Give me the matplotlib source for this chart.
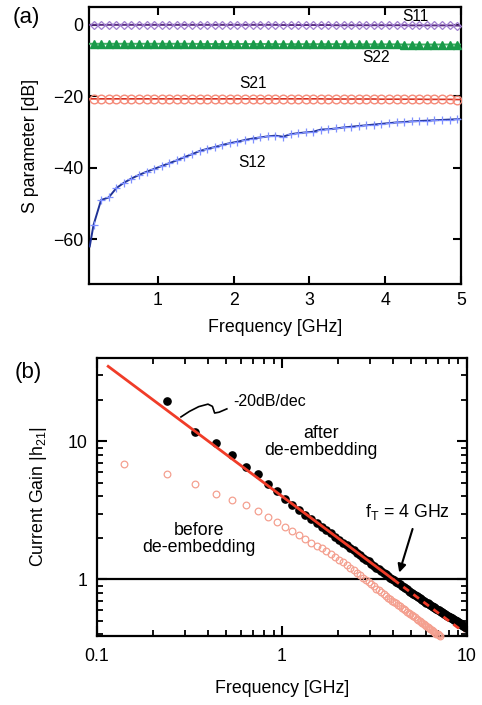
import matplotlib
matplotlib.use("Agg")
import matplotlib.pyplot as plt
from matplotlib.ticker import LogLocator, FixedLocator, NullFormatter, FixedFormatter

plt.rcParams['font.family'] = ['Liberation Sans', 'DejaVu Sans']
plt.rcParams['mathtext.fontset'] = 'custom'
plt.rcParams['mathtext.rm'] = 'Liberation Sans'
plt.rcParams['mathtext.it'] = 'Liberation Sans:italic'

# ---------------- Panel (a) data ----------------
freq_a = [0.10, 0.15, 0.25, 0.35, 0.45, 0.55, 0.65, 0.75, 0.85, 0.95,
          1.05, 1.15, 1.25, 1.35, 1.45, 1.55, 1.65, 1.75, 1.85, 1.95,
          2.05, 2.15, 2.25, 2.35, 2.45, 2.55, 2.65, 2.75, 2.85, 2.95,
          3.05, 3.15, 3.25, 3.35, 3.45, 3.55, 3.65, 3.75, 3.85, 3.95,
          4.05, 4.15, 4.25, 4.35, 4.45, 4.55, 4.65, 4.75, 4.85, 4.95, 5.00]
s11 = [0.0, 0.0, 0.0, 0.0, 0.0, 0.0, 0.0, 0.0, 0.0, 0.0,
       0.0, 0.0, 0.0, 0.0, 0.0, 0.0, 0.0, 0.0, 0.0, 0.0,
       0.0, 0.0, 0.0, 0.0, 0.0, 0.0, -0.05, -0.05, -0.05, -0.05,
       -0.05, -0.05, -0.05, -0.1, -0.1, -0.1, -0.1, -0.1, -0.1, -0.1,
       -0.1, -0.1, -0.1, -0.15, -0.15, -0.15, -0.15, -0.15, -0.15, -0.2, -0.2]
s22 = [-5.3, -5.3, -5.3, -5.3, -5.3, -5.3, -5.3, -5.3, -5.3, -5.3,
       -5.3, -5.3, -5.3, -5.3, -5.3, -5.35, -5.35, -5.35, -5.35, -5.35,
       -5.35, -5.35, -5.35, -5.35, -5.35, -5.4, -5.4, -5.4, -5.4, -5.4,
       -5.4, -5.4, -5.4, -5.4, -5.4, -5.45, -5.45, -5.45, -5.45, -5.45,
       -5.45, -5.45, -5.5, -5.5, -5.5, -5.5, -5.5, -5.5, -5.5, -5.5, -5.5]
s21 = [-20.7, -20.7, -20.7, -20.7, -20.7, -20.7, -20.7, -20.7, -20.7, -20.7,
       -20.7, -20.7, -20.7, -20.7, -20.7, -20.7, -20.7, -20.7, -20.7, -20.7,
       -20.7, -20.7, -20.7, -20.7, -20.7, -20.7, -20.7, -20.7, -20.7, -20.7,
       -20.7, -20.7, -20.75, -20.75, -20.75, -20.75, -20.75, -20.75, -20.75, -20.8,
       -20.8, -20.8, -20.8, -20.8, -20.8, -20.85, -20.85, -20.85, -20.85, -20.9, -20.9]
s12 = [-62.0, -56.0, -49.0, -48.3, -45.7, -44.2, -43.0, -42.0, -41.1, -40.3,
       -39.5, -38.7, -37.9, -37.0, -36.2, -35.3, -34.7, -34.2, -33.6, -33.1,
       -32.7, -32.2, -31.8, -31.5, -31.2, -31.0, -31.3, -30.6, -30.3, -30.1,
       -29.9, -29.3, -29.2, -29.0, -28.7, -28.5, -28.3, -28.1, -27.9, -27.7,
       -27.5, -27.3, -27.2, -27.0, -26.9, -26.8, -26.7, -26.6, -26.5, -26.4, -26.4]
labels_a = ["S11", "S22", "S21", "S12"]
label_pos_a = [(4.40, 2.2), (3.88, -9.1), (2.25, -16.4), (2.24, -38.5)]
xticks_a = [1, 2, 3, 4, 5]
yticks_a = [-60, -40, -20, 0]

# ---------------- Panel (b) data ----------------
freq_after = [0.24, 0.34, 0.44, 0.54, 0.64, 0.74, 0.84, 0.94,
              1.04, 1.14, 1.24, 1.34, 1.44, 1.54, 1.64, 1.74, 1.84, 1.94,
              2.04, 2.14, 2.24, 2.34, 2.44, 2.54, 2.64, 2.74, 2.84, 2.94,
              3.04, 3.14, 3.24, 3.34, 3.44, 3.54, 3.64, 3.74, 3.84, 3.94,
              4.04, 4.14, 4.24, 4.34, 4.44, 4.54, 4.64, 4.74, 4.84, 4.94,
              5.04, 5.14, 5.24, 5.34, 5.44, 5.54, 5.64, 5.74, 5.84, 5.94,
              6.04, 6.14, 6.24, 6.34, 6.44, 6.54, 6.64, 6.74, 6.84, 6.94,
              7.04, 7.14, 7.24, 7.34, 7.44, 7.54, 7.64, 7.74, 7.84, 7.94,
              8.04, 8.14, 8.24, 8.34, 8.44, 8.54, 8.64, 8.74, 8.84, 8.94,
              9.04, 9.14, 9.24, 9.34, 9.44, 9.54, 9.64, 9.74, 9.84, 9.94]
h21_after = [19.4, 11.7, 9.67, 8.0, 6.49, 5.8, 4.91, 4.35,
             3.80, 3.47, 3.18, 2.95, 2.75, 2.57, 2.41, 2.27, 2.15, 2.04,
             1.94, 1.85, 1.77, 1.69, 1.62, 1.56, 1.50, 1.44, 1.39, 1.35,
             1.30, 1.26, 1.22, 1.19, 1.15, 1.12, 1.09, 1.06, 1.03, 1.005,
             0.985, 0.962, 0.940, 0.920, 0.900, 0.882, 0.864, 0.847, 0.831, 0.815,
             0.800, 0.786, 0.772, 0.759, 0.746, 0.734, 0.722, 0.711, 0.700, 0.690,
             0.680, 0.670, 0.661, 0.652, 0.643, 0.635, 0.627, 0.619, 0.611, 0.604,
             0.597, 0.590, 0.583, 0.577, 0.571, 0.565, 0.559, 0.553, 0.548, 0.542,
             0.537, 0.532, 0.527, 0.522, 0.517, 0.512, 0.507, 0.502, 0.497, 0.493,
             0.488, 0.484, 0.479, 0.474, 0.469, 0.464, 0.460, 0.456, 0.452, 0.448]
freq_before = [0.14, 0.24, 0.34, 0.44, 0.54, 0.64, 0.74, 0.84, 0.94,
               1.04, 1.14, 1.24, 1.34, 1.44, 1.54, 1.64, 1.74, 1.84, 1.94,
               2.04, 2.14, 2.24, 2.34, 2.44, 2.54, 2.64, 2.74, 2.84, 2.94,
               3.04, 3.14, 3.24, 3.34, 3.44, 3.54, 3.64, 3.74, 3.84, 3.94,
               4.04, 4.14, 4.24, 4.34, 4.44, 4.54, 4.64, 4.74, 4.84, 4.94,
               5.04, 5.14, 5.24, 5.34, 5.44, 5.54, 5.64, 5.74, 5.84, 5.94,
               6.04, 6.14, 6.24, 6.34, 6.44, 6.54, 6.64, 6.74, 6.84, 6.94,
               7.04, 7.14]
h21_before = [6.85, 5.80, 4.90, 4.15, 3.74, 3.43, 3.12, 2.84, 2.60,
              2.40, 2.24, 2.09, 1.96, 1.85, 1.76, 1.68, 1.60, 1.52, 1.45,
              1.39, 1.33, 1.27, 1.22, 1.17, 1.12, 1.07, 1.03, 0.99, 0.955,
              0.92, 0.89, 0.86, 0.835, 0.81, 0.785, 0.76, 0.74, 0.72, 0.70,
              0.685, 0.67, 0.655, 0.64, 0.625, 0.61, 0.598, 0.586, 0.574, 0.563,
              0.552, 0.541, 0.531, 0.521, 0.511, 0.502, 0.493, 0.484, 0.476, 0.468,
              0.460, 0.452, 0.445, 0.438, 0.431, 0.424, 0.418, 0.412, 0.406, 0.400,
              0.395, 0.390]
fit_solid_f = [0.115, 4.0]
fit_solid_h = [34.8, 1.0]
fit_dash_f = [4.0, 9.6]
fit_dash_h = [1.0, 0.417]
xticks_b = [0.1, 1, 10]
xticklabels_b = ["0.1", "1", "10"]
yticks_b = [1, 10]
yticklabels_b = ["1", "10"]

# ---------------- Figure ----------------
fig = plt.figure(figsize=(4.82, 7.05), dpi=100)
FS = 12.8

# ---- (a)
ax1 = fig.add_axes([0.1846, 0.5972, 0.7718, 0.3929])
ax1.plot(freq_a, s11, color='#5a2d82', lw=1.4, marker='D', ms=4.2, mfc='none',
         mec='#a07fd0', mew=0.9, markevery=slice(1, -1), zorder=3)
ax1.plot(freq_a, s22, color='#3cb060', lw=1.4, marker='^', ms=6, mfc='#1a9a4a',
         mec='#1a9a4a', markevery=slice(1, -1), zorder=3)
ax1.plot(freq_a, s21, color='#d83020', lw=1.2, marker='o', ms=6.2, mfc='none',
         mec='#f58a78', mew=1.0, markevery=slice(1, -1), zorder=3)
ax1.plot(freq_a, s12, color='#1f3296', lw=1.4, marker='+', ms=5.5, mec='#7f90ff',
         mew=0.9, markevery=slice(1, -1), zorder=3)
for lab, (lx, ly) in zip(labels_a, label_pos_a):
    ax1.text(lx, ly, lab, fontsize=11.2, ha='center', va='center')
ax1.set_xlim(0.09, 5.0)
ax1.set_ylim(-72.5, 5.0)
ax1.set_xticks(xticks_a)
ax1.set_yticks(yticks_a)
ax1.tick_params(direction='in', length=6, width=1.5, top=True, right=True,
                labelsize=FS, pad=6)
ax1.tick_params(axis='y', pad=4)
for sp in ax1.spines.values():
    sp.set_linewidth(1.6)
ax1.set_xlabel("Frequency [GHz]", fontsize=FS)
ax1.set_ylabel("S parameter [dB]", fontsize=FS)
ax1.xaxis.set_label_coords(0.5, -0.125)
ax1.yaxis.set_label_coords(-0.135, 0.5)

# ---- (b)
ax2 = fig.add_axes([0.2012, 0.0979, 0.7676, 0.3943])
ax2.set_xscale('log')
ax2.set_yscale('log')
ax2.axhline(1.0, color='black', lw=1.6, zorder=2)
ax2.plot(freq_before, h21_before, ls='none', marker='o', ms=4.8, mfc='none',
         mec='#f4a090', mew=0.9, zorder=3, clip_on=False)
ax2.plot(freq_after, h21_after, ls='none', marker='o', ms=5.2, mfc='black',
         mec='black', zorder=4)
ax2.plot(fit_solid_f, fit_solid_h, color='#f03c28', lw=2.0, zorder=5)
ax2.plot(fit_dash_f, fit_dash_h, color='#f03c28', lw=2.0, ls=(0, (2.5, 2)), zorder=5)
ax2.set_xlim(0.1, 10)
ax2.set_ylim(0.39, 40)
ax2.xaxis.set_major_locator(FixedLocator(xticks_b))
ax2.xaxis.set_major_formatter(FixedFormatter(xticklabels_b))
ax2.yaxis.set_major_locator(FixedLocator(yticks_b))
ax2.yaxis.set_major_formatter(FixedFormatter(yticklabels_b))
ax2.xaxis.set_minor_locator(LogLocator(base=10, subs=range(2, 10)))
ax2.yaxis.set_minor_locator(LogLocator(base=10, subs=range(2, 10)))
ax2.xaxis.set_minor_formatter(NullFormatter())
ax2.yaxis.set_minor_formatter(NullFormatter())
ax2.tick_params(which='major', direction='in', length=7, width=1.5, top=True,
                right=True, labelsize=FS)
ax2.tick_params(which='minor', direction='in', length=4, width=1.3, top=True,
                right=True)
ax2.tick_params(axis='x', which='major', pad=9)
ax2.tick_params(axis='y', which='major', pad=7)
for sp in ax2.spines.values():
    sp.set_linewidth(1.6)
ax2.set_xlabel("Frequency [GHz]", fontsize=FS)
ax2.set_ylabel(r"Current Gain |h$_{\rm 21}$|", fontsize=FS)
ax2.xaxis.set_label_coords(0.5, -0.16)
ax2.yaxis.set_label_coords(-0.13, 0.5)

# annotations in (b)
squig_x = [0.227, 0.250, 0.275, 0.300, 0.312, 0.318, 0.330, 0.351]
squig_y = [0.788, 0.808, 0.825, 0.834, 0.826, 0.802, 0.805, 0.817]
ax2.plot(squig_x, squig_y, color='black', lw=1.2, transform=ax2.transAxes,
         zorder=6)
ax2.text(0.368, 0.845, "-20dB/dec", transform=ax2.transAxes, fontsize=11.5,
         ha='left', va='center')
ax2.text(0.605, 0.697, "after\nde-embedding", transform=ax2.transAxes,
         fontsize=FS, ha='center', va='center', linespacing=1.0)
ax2.text(0.275, 0.350, "before\nde-embedding", transform=ax2.transAxes,
         fontsize=FS, ha='center', va='center', linespacing=1.0)
ax2.text(0.84, 0.446, r"f$_{\rm T}$ = 4 GHz", transform=ax2.transAxes,
         fontsize=FS, ha='center', va='center')
ax2.annotate("", xy=(0.817, 0.228), xytext=(0.853, 0.385),
             xycoords='axes fraction', textcoords='axes fraction',
             arrowprops=dict(arrowstyle='-|>', color='black', lw=1.5,
                             mutation_scale=12, shrinkA=0, shrinkB=0))

fig.text(0.027, 0.9745, "(a)", fontsize=16, ha='left', va='center')
fig.text(0.030, 0.471, "(b)", fontsize=16, ha='left', va='center')

fig.savefig("out.png", dpi=100)
